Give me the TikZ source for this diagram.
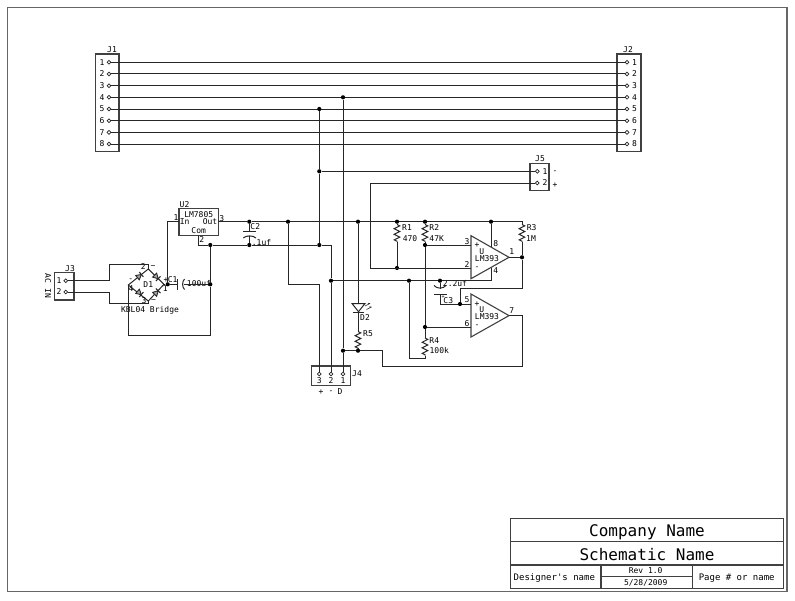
\documentclass[tikz,border=0pt]{standalone}
\usepackage{fontspec}
\setmonofont{DejaVu Sans Mono}
\usetikzlibrary{decorations.pathmorphing}
\tikzset{
  wire/.style={line width=1pt,black!85},
  res/.style={wire,decorate,decoration={zigzag,amplitude=2.8pt,segment length=5.6pt}},
  dot/.style={circle,fill=black,inner sep=0pt,minimum size=4.2pt},
  pinhole/.style={circle,draw=black!85,line width=0.7pt,fill=white,inner sep=0pt,minimum size=3.8pt},
  lbl/.style={inner sep=0pt,font=\fontsize{8}{8}\selectfont\ttfamily,text=black},
  midlbl/.style={inner sep=0pt,font=\fontsize{9}{10}\selectfont\ttfamily,text=black},
  biglbl/.style={inner sep=0pt,anchor=base,font=\fontsize{16}{18}\selectfont\ttfamily,text=black},
  frame/.style={line width=1.4pt,black!60},
  block/.style={line width=1.1pt,black!75}
}
\begin{document}
\begin{tikzpicture}[x=1pt,y=-1pt]
\useasboundingbox (0,0) rectangle (795,600);
\draw[frame] (7.5,7.5) rectangle (787,591.7);

% title block
\draw[block] (510.3,518.3) rectangle (783.7,588.3);
\draw[block] (510.3,541.7) -- (783.7,541.7);
\draw[block] (510.3,565) -- (783.7,565);
\draw[block] (601,565) -- (601,588.3);
\draw[block] (692.7,565) -- (692.7,588.3);
\draw[block] (601,576.3) -- (692.7,576.3);
\node[biglbl] (company) at (647,536.5) {Company Name};
\node[biglbl] (schematic) at (647,560) {Schematic Name};
\node[midlbl] (designer) at (554.3,578) {Designer's name};
\node[midlbl,font=\fontsize{8}{9}\selectfont\ttfamily] (rev) at (645.7,571) {Rev 1.0};
\node[midlbl,font=\fontsize{8}{9}\selectfont\ttfamily] (datelbl) at (645.7,583) {5/28/2009};
\node[midlbl] (pagelbl) at (736.7,578) {Page \# or name};

% J1 and J2
\draw[block] (95.7,54) rectangle (119,151.7);
\draw[block] (617,54) rectangle (641,151.7);
\node[lbl] (j1lbl) at (112,50) {J1};
\node[lbl] (j2lbl) at (628,50) {J2};
\foreach \i [evaluate=\i as \py using 62.3+(\i-1)*11.68] in {1,...,8} {
  \node[pinhole] (ja\i) at (109,\py) {};
  \node[pinhole] (jb\i) at (627,\py) {};
  \node[lbl] (ja\i n) at (102,\py) {\i};
  \node[lbl] (jb\i n) at (634.5,\py) {\i};
  \draw[wire] (ja\i) -- (jb\i);
}

% J3
\draw[block] (54.3,272.7) rectangle (74,300);
\node[lbl] (j3lbl) at (70,268.7) {J3};
\node[lbl,rotate=-90] (aclbl) at (48,286) {AC IN};
\node[pinhole] (jc1) at (65.7,280.7) {};
\node[pinhole] (jc2) at (65.7,292) {};
\node[lbl] (jc1n) at (59,280.7) {1};
\node[lbl] (jc2n) at (59,292) {2};

% J4
\draw[block] (311.7,366) rectangle (350.7,385.7);
\node[lbl] (j4lbl) at (357,374) {J4};
\node[pinhole] (jd3) at (319.3,374) {};
\node[pinhole] (jd2) at (331,374) {};
\node[pinhole] (jd1) at (343,374) {};
\node[lbl] (jd3n) at (319.3,381) {3};
\node[lbl] (jd2n) at (331,381) {2};
\node[lbl] (jd1n) at (343,381) {1};
\node[lbl] (plus4) at (321,392) {+};
\node[lbl] (minus4) at (331,392) {-};
\node[lbl] (d4) at (340,392) {D};

% J5
\draw[block] (530,163.3) rectangle (549,190.7);
\node[lbl] (j5lbl) at (540,159) {J5};
\node[pinhole] (je1) at (537.3,171.3) {};
\node[pinhole] (je2) at (537.3,183) {};
\node[lbl] (je1n) at (545,171.3) {1};
\node[lbl] (je2n) at (545,183) {2};
\node[lbl] (minus5) at (555,172) {-};
\node[lbl] (plus5) at (555,185.5) {+};

% junctions
\foreach \n/\px/\py in {da/319.3/109,db/343/97.3,dc/319.3/171.3,dd/319.3/245,de/343/350.7,
  df/358/350.7,dg/331/280.7,dh/409/280.7,di/440/280.7,dj/249.3/221.7,dk/288/221.7,
  dl/358/221.7,dm/397/221.7,dn/425/221.7,dp/491/221.7,dq/397/268,dr/425/245,ds/425/327,
  dt/522/257.3,du/460/304,dv/167.7/284.3,dw/210.3/284.3,dx/210.3/245,dy/249.3/245}
  \node[dot] (\n) at (\px,\py) {};

% bends and ends
\foreach \n/\px/\py in {ka/382/366,kb/522/366,kc/522/288,kd/210.3/335,ke/288/284,kf/148.3/264.3,
  kg/148.3/303.3,kh/425/358,km/522/221.7,
  btop/148.3/269,bleft/128.3/285,bright/164/284.3,bbot/148.3/301,
  uin/179/221.7,uout/218.3/221.7,ucom/198.3/235.3,
  c1a/177.3/284.3,c1b/183.5/284.3,c2a/249.3/231.7,c2b/249.3/235.5,c3a/440/288.5,c3b/440/294,
  d2a/358/304,d2b/358/312,
  uap/471/245,uam/471/268,uag/491/247,uaf/491/267.5,ubp/471/304,ubm/471/327}
  \coordinate (\n) at (\px,\py);

% resistors
\foreach \n/\px/\py/\len in {r1/397/224.5/17,r2/425/224.5/17,r3/522/224.5/17,r4/425/338/17.5,r5/358/331.5/17} {
  \coordinate (\n t) at (\px,\py);
  \coordinate (\n b) at (\px,\py+\len);
  \draw[res] (\n t) -- (\n b);
}

% U1 and U2 comparators
\foreach \n/\ty in {ua/235.7,ub/294} {
  \coordinate (\n tl) at (471,\ty);
  \coordinate (\n bl) at (471,\ty+43);
  \coordinate (\n o) at (509,\ty+21.6);
  \draw[block] (\n tl) -- (\n bl) -- (\n o) -- cycle;
  \node[lbl] (\n sym) at (481.7,\ty+16) {U};
  \node[lbl] (\n part) at (487,\ty+22.5) {LM393};
  \node[lbl] (\n plus) at (477,\ty+10) {+};
  \node[lbl] (\n minus) at (477,\ty+32.5) {-};
}
\node[lbl] (ua3) at (467,241.7) {3};
\node[lbl] (ua2) at (467,265) {2};
\node[lbl] (ua8) at (495.7,243.7) {8};
\node[lbl] (ua4) at (495.7,270.7) {4};
\node[lbl] (ua1) at (511.7,252) {1};
\node[lbl] (ub5) at (467,300) {5};
\node[lbl] (ub6) at (467,324) {6};
\node[lbl] (ub7) at (511.7,311) {7};

% regulator
\draw[block] (179,208.3) rectangle (218.3,235.3);
\node[lbl] (u2lbl) at (184.5,204.3) {U2};
\node[lbl] (u2part) at (198.7,214.3) {LM7805};
\node[lbl] (u2in) at (184.7,222) {In};
\node[lbl] (u2out) at (210,222) {Out};
\node[lbl] (u2com) at (198.7,230.7) {Com};
\node[lbl] (u2p1) at (176,218) {1};
\node[lbl] (u2p3) at (221.7,218.7) {3};
\node[lbl] (u2p2) at (201.7,240) {2};

% bridge
\draw[wire] (btop) -- (bright) -- (bbot) -- (bleft) -- cycle;
\foreach \px/\py/\ang in {139.5/276/40,156.5/277/-45,139.5/293/-40,156.5/292.5/45} {
  \begin{scope}[shift={(\px,\py)},rotate=\ang]
  \draw[wire,line width=0.9pt,fill=black!35] (-2.6,-2.8) -- (-2.6,2.8) -- (2.4,0) -- cycle;
  \draw[wire] (2.4,-3.2) -- (2.4,3.2);
  \end{scope}
}
\node[lbl] (d1lbl) at (148.3,285) {D1};
\node[lbl] (bpin2) at (143.3,267) {2};
\node[lbl] (bpin3) at (144,301) {3};
\node[lbl] (bpin4) at (131,288.5) {4};
\node[lbl] (bpin1) at (165.3,288.7) {1};
\node[lbl] (bac1) at (153,266.5) {\textasciitilde};
\node[lbl] (bac2) at (153.5,301) {\textasciitilde};
\node[lbl] (bminus) at (130.7,280) {-};
\node[lbl] (bplus) at (166,280) {+};
\node[lbl] (bridgelbl) at (150,310.7) {KBL04 Bridge};

% capacitors
\draw[wire] (177.3,279) -- (177.3,289.5);
\draw[wire] (184.5,279) .. controls (182,281.5) and (182,287) .. (184.5,289.5);
\draw[wire] (243.3,231.7) -- (256,231.7);
\draw[wire] (243.3,238) .. controls (246,235.2) and (253,235.2) .. (256,238);
\draw[wire] (434,294) -- (446.7,294);
\draw[wire] (434,285.5) .. controls (437,289) and (443,289) .. (446,285.5);
\node[lbl] (c1lbl) at (172.7,279.3) {C1};
\node[lbl] (c1val) at (199,283.3) {100uf};
\node[lbl] (c2lbl) at (255.3,226.7) {C2};
\node[lbl] (c2val) at (261.5,242.7) {.1uf};
\node[lbl] (c3lbl) at (448.3,301) {C3};
\node[lbl] (c3val) at (455,284) {2.2uf};
\node[lbl,font=\fontsize{5}{5}\selectfont\ttfamily] (c3plus) at (443,297.5) {+};

% resistor and LED labels
\node[lbl] (r1lbl) at (407,228) {R1};
\node[lbl] (r1val) at (410,238.3) {470};
\node[lbl] (r2lbl) at (434.3,228) {R2};
\node[lbl] (r2val) at (436.7,238.3) {47K};
\node[lbl] (r3lbl) at (531.7,228) {R3};
\node[lbl] (r3val) at (531,238.3) {1M};
\node[lbl] (r4lbl) at (434.3,341) {R4};
\node[lbl] (r4val) at (439.3,351) {100k};
\node[lbl] (r5lbl) at (368,333.3) {R5};
\node[lbl] (d2lbl) at (365,317.3) {D2};
\draw[wire,fill=white] (352,303.5) -- (365,303.5) -- (358.5,311.7) -- cycle;
\draw[wire] (352.7,312) -- (364.3,312);
\draw[wire,line width=0.6pt] (365,306) -- (370,303.5) (370,303.5) -- (368,303.2);
\draw[wire,line width=0.6pt] (366.5,309.5) -- (371.5,307) (371.5,307) -- (369.5,306.7);

% power and ground
\draw[wire] (da) -- (dc) -- (dd);
\draw[wire] (db) -- (de) -- (jd1);
\draw[wire] (dc) -- (je1);
\draw[wire] (je2) -- ++(-167.3,0) |- (uam);
\draw[wire] (uout) -- (dj) -- (dk) -- (dl) -- (dm) -- (dn) -- (dp) -- (km) -- (r3t);
\draw[wire] (dv) |- (uin);
\draw[wire] (ucom) |- (dx);
\draw[wire] (dx) -- (dy) -- (dd);
\draw[wire] (dd) -| (dg);
\draw[wire] (dg) -- (jd2);
\draw[wire] (dg) -- (dh) -- (di);
\draw[wire] (di) -| (uaf);
\draw[wire] (dh) |- (kh) -- (r4b);
\draw[wire] (dk) -- (ke) -| (jd3);
\draw[wire] (dl) -- (d2a);
\draw[wire] (d2b) -- (r5t);
\draw[wire] (r5b) -- (df);
\draw[wire] (de) -- (df);
\draw[wire] (df) -| (ka) -- (kb) |- (ubo);
\draw[wire] (dp) -- (uag);
\draw[wire] (dm) -- (r1t);
\draw[wire] (r1b) -- (dq);
\draw[wire] (dn) -- (r2t);
\draw[wire] (r2b) -- (dr) -- (ds) -- (r4t);
\draw[wire] (dr) -- (uap);
\draw[wire] (ds) -- (ubm);
\draw[wire] (uao) -- (dt);
\draw[wire] (r3b) -- (dt) -- (kc) -| (du);
\draw[wire] (du) -- (ubp);
\draw[wire] (di) -- (c3a);
\draw[wire] (c3b) |- (du);
\draw[wire] (dj) -- (c2a);
\draw[wire] (c2b) -- (dy);
\draw[wire] (bright) -- (dv) -- (c1a);
\draw[wire] (c1b) -- (dw);
\draw[wire] (dx) -- (dw) -- (kd) -| (bleft);
\draw[wire] (jc1) -- ++(43.3,0) |- (kf) -- (btop);
\draw[wire] (jc2) -- ++(43.3,0) |- (kg) -- (bbot);

\end{tikzpicture}
\end{document}
